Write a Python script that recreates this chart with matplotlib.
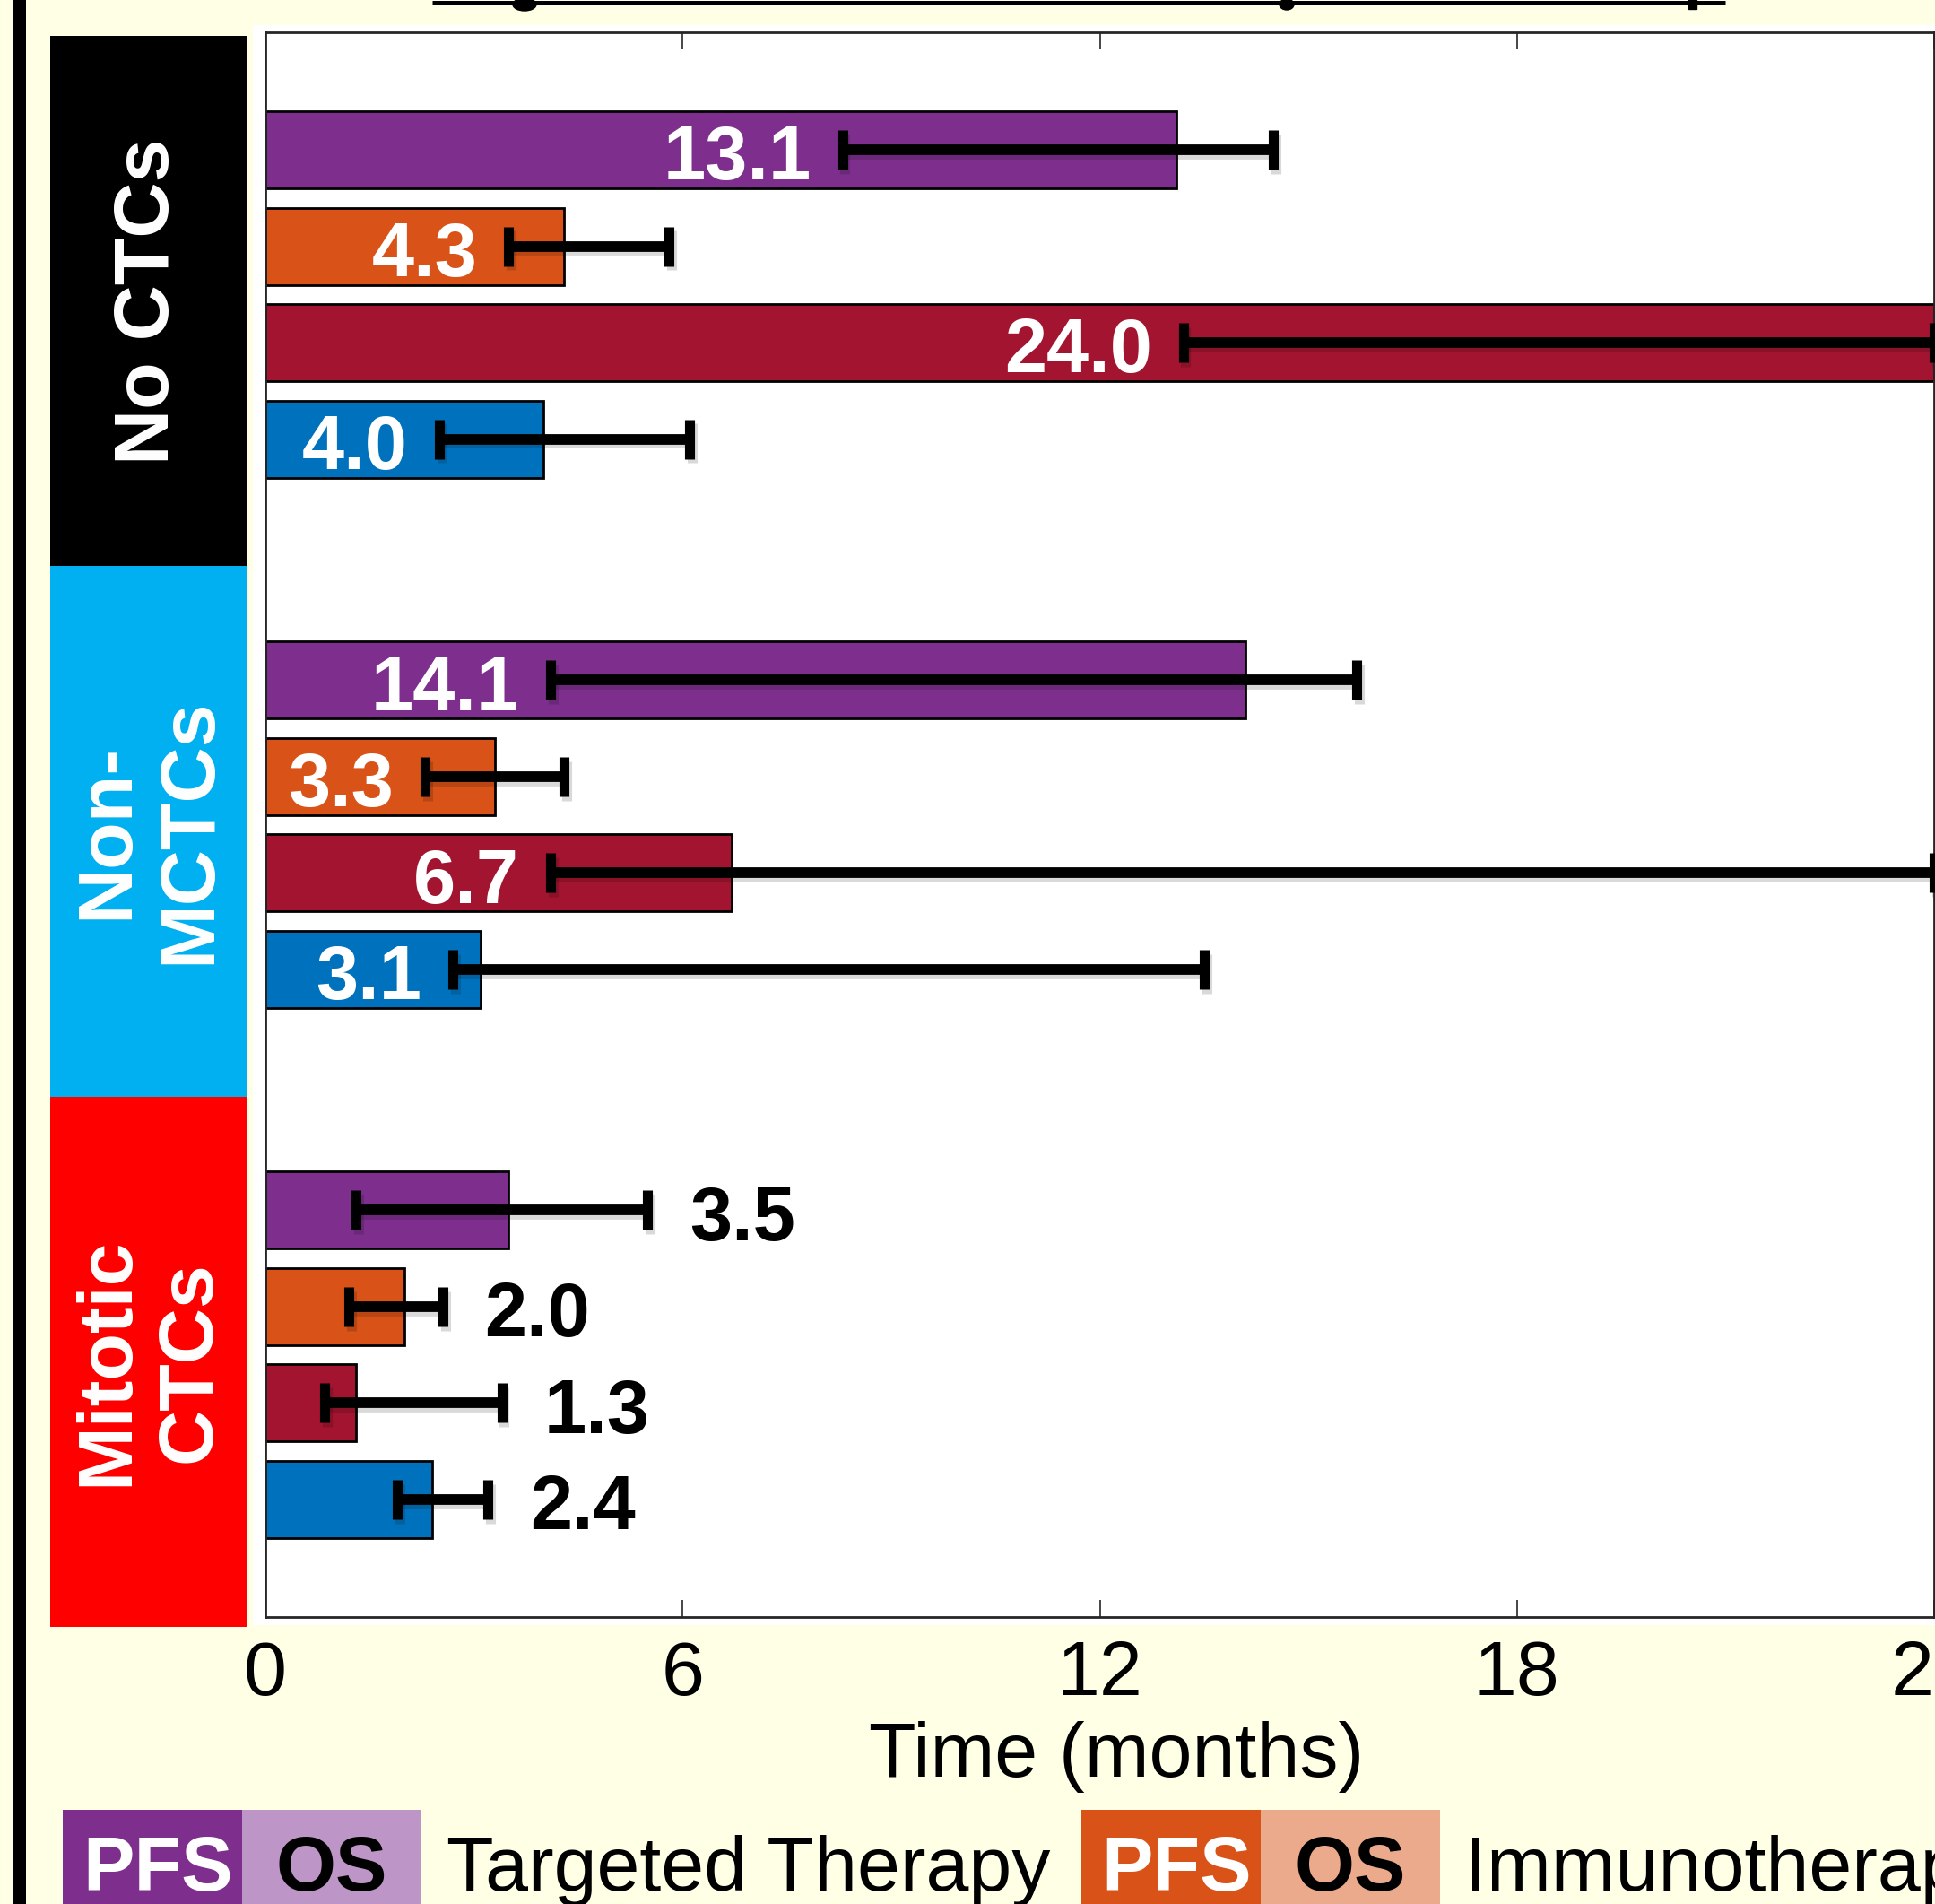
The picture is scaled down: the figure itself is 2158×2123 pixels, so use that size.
import numpy as np
import matplotlib.pyplot as plt
import matplotlib.transforms as mtransforms
from matplotlib.patches import Rectangle, Ellipse
from matplotlib.lines import Line2D

plt.rcParams['font.family'] = ['Liberation Sans', 'DejaVu Sans']

# CTC groups, top to bottom
groups = ['No CTCs', 'Non-\nMCTCs', 'Mitotic\nCTCs']
group_colors = ['#000000', '#00B0F0', '#FF0000']

# one PFS bar per therapy inside each group (months, median with 95% CI)
therapy_colors = ['#7E2F8E', '#D95319', '#A2142F', '#0072BD']
median_pfs = [[13.1, 4.3, 24.0, 4.0],
              [14.1, 3.3, 6.7, 3.1],
              [3.5, 2.0, 1.3, 2.4]]
ci_lower = [[8.3, 3.5, 13.2, 2.5],
            [4.1, 2.3, 4.1, 2.7],
            [1.3, 1.2, 0.85, 1.9]]
ci_upper = [[14.5, 5.8, 24.0, 6.1],
            [15.7, 4.3, 24.0, 13.5],
            [5.5, 2.55, 3.4, 3.2]]

x_ticks = [0, 6, 12, 18, 24]

legend_names = ['Targeted Therapy', 'Immunotherapy']
legend_dark = ['#7E2F8E', '#D95319']
legend_light = ['#BD95C6', '#EBAA8C']

W, H = 2158, 2123
FS = 62
bg = '#FFFFE5'


def fx(px):
    return px / W


def fy(py):
    return 1 - py / H


fig = plt.figure(figsize=(W / 100, H / 100), dpi=100, facecolor=bg)

# frame line on the far left and the rule along the top edge
fig.add_artist(Rectangle((fx(14), 0), fx(15), 1, facecolor='black',
                         edgecolor='none', zorder=-2))
fig.add_artist(Line2D([fx(482), fx(1924)], [fy(2.5), fy(2.5)], color='black',
                      lw=3.6, solid_capstyle='butt'))
fig.add_artist(Ellipse((fx(585), fy(5)), fx(26), 14 / H, color='black'))
fig.add_artist(Ellipse((fx(1435), fy(5)), fx(16), 12 / H, color='black'))
fig.add_artist(Rectangle((fx(1883), fy(10)), fx(9), 10 / H, color='black'))

# white panel behind the plot
fig.add_artist(Rectangle((fx(282), fy(1812)), fx(2158) - fx(282), fy(28) - fy(1812),
                         facecolor='white', edgecolor='none', zorder=-1))

ax = fig.add_axes([fx(296), fy(1803), fx(2157) - fx(296), fy(36) - fy(1803)])
ax.set_facecolor('white')

n_bars = len(therapy_colors)
gap = 5.5
# error bar drop shadow: same bars, nudged right/down a few points
shadow_tr = ax.transData + mtransforms.ScaledTranslation(2 / 72, -3.5 / 72,
                                                          fig.dpi_scale_trans)
eb_style = dict(fmt='none', elinewidth=8.5, capsize=15.5, capthick=8)

for g in range(len(groups)):
    y = g * gap + np.arange(n_bars)
    med = np.array(median_pfs[g])
    lo = np.array(ci_lower[g])
    hi = np.array(ci_upper[g])
    ax.barh(y, med, height=0.8, color=therapy_colors, edgecolor='black',
            linewidth=2, zorder=2)
    xerr = [med - lo, hi - med]
    sh = ax.errorbar(med, y, xerr=xerr, ecolor=(0, 0, 0, 0.15), zorder=2.5, **eb_style)
    for art in list(sh[1]) + list(sh[2]):
        art.set_transform(shadow_tr)
    ax.errorbar(med, y, xerr=xerr, ecolor='black', zorder=3, **eb_style)
    for yi, m, l, h in zip(y, med, lo, hi):
        if l > 2:
            ax.text(l - 0.45, yi + 0.31, f'{m:.1f}', ha='right', va='baseline',
                    color='white', fontsize=FS - 1, fontweight='bold', zorder=4)
        else:
            ax.text(h + 0.6, yi + 0.31, f'{m:.1f}', ha='left', va='baseline',
                    color='black', fontsize=FS - 1, fontweight='bold', zorder=4)

# coloured group blocks to the left of the axes
trans = mtransforms.blended_transform_factory(fig.transFigure, ax.transData)
for g, (name, col) in enumerate(zip(groups, group_colors)):
    c = g * gap + (n_bars - 1) / 2 + 0.07
    ax.add_patch(Rectangle((fx(56), c - gap / 2), fx(275) - fx(56), gap,
                           transform=trans, facecolor=col, edgecolor='none',
                           clip_on=False))
    ax.text(fx(166), c, name, transform=trans, rotation=90, ha='center',
            va='center', multialignment='center', color='white',
            fontsize=FS, fontweight='bold', linespacing=1.2)

ax.set_xlim(0, 24)
ax.set_ylim(14 + 1.22, -1.22)
ax.set_xticks(x_ticks)
ax.set_yticks([])
ax.tick_params(axis='x', direction='in', length=14, width=1.2, top=True,
               labelsize=FS, pad=18, color='#262626', labelcolor='black')
for s in ax.spines.values():
    s.set_linewidth(2)
    s.set_color('#262626')
ax.set_xlabel('Time (months)', fontsize=FS, labelpad=8)
ax.xaxis.label.set_x(0.51)

# legend row along the bottom
starts = [70, 1206]
box_w = 200
for x0, name, dark, light in zip(starts, legend_names, legend_dark, legend_light):
    fig.add_artist(Rectangle((fx(x0), fy(2140)), fx(box_w), fy(2018) - fy(2140),
                             facecolor=dark, edgecolor='none'))
    fig.add_artist(Rectangle((fx(x0 + box_w), fy(2140)), fx(box_w), fy(2018) - fy(2140),
                             facecolor=light, edgecolor='none'))
    fig.text(fx(x0 + box_w / 2 + 6), fy(2108), 'PFS', ha='center', va='baseline',
             color='white', fontsize=FS, fontweight='bold')
    fig.text(fx(x0 + 1.5 * box_w), fy(2108), 'OS', ha='center', va='baseline',
             color='black', fontsize=FS, fontweight='bold')
    fig.text(fx(x0 + 2 * box_w + 28), fy(2108), name, ha='left', va='baseline',
             color='black', fontsize=FS)

fig.savefig('out.png', dpi=100, facecolor=bg)
